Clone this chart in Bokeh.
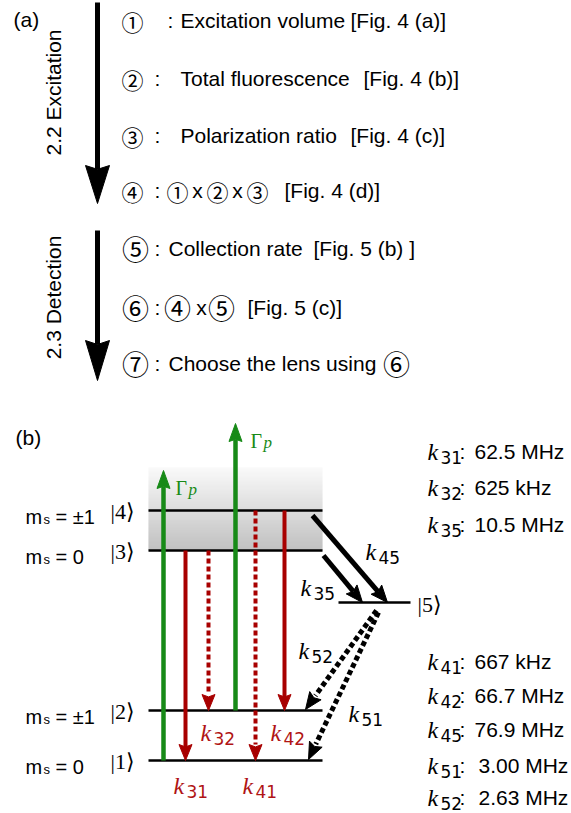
import math
from bokeh.plotting import figure
from bokeh.models import Range1d
from bokeh.core.properties import value
from bokeh.embed import file_html
from bokeh.resources import INLINE

# ---------------- data ----------------
step_numbers = ["①", "②", "③", "④", "⑤", "⑥", "⑦"]
step_texts = ["Excitation volume", "Total fluorescence", "Polarization ratio", "", "Collection rate", "", "Choose the lens using"]
step_refs = ["[Fig. 4 (a)]", "[Fig. 4 (b)]", "[Fig. 4 (c)]", "[Fig. 4 (d)]", "[Fig. 5 (b) ]", "[Fig. 5 (c)]", ""]
step_products = {3: ["①", "x", "②", "x", "③"], 5: ["④", "x", "⑤"], 6: ["⑥"]}
stage_labels = ["2.2 Excitation", "2.3 Detection"]

level_kets = ["|1⟩", "|2⟩", "|3⟩", "|4⟩"]
level_spins = ["0", "±1", "0", "±1"]
rate_names = ["31", "32", "35", "41", "42", "45", "51", "52"]
rate_values = ["62.5 MHz", "625 kHz", "10.5 MHz", "667 kHz", "66.7 MHz", "76.9 MHz", "3.00 MHz", "2.63 MHz"]
# radiative transitions (from level, to level, dotted?)
rad_from = [3, 3, 4, 4]
rad_to = [1, 2, 1, 2]
rad_dotted = [False, True, True, False]
pump_from = [1, 2]
pump_label = "Γ"

# ---------------- layout ----------------
W, H = 571, 813
SANS = "Liberation Sans"
SERIF = "Liberation Serif"
CIRC = "Noto Sans CJK JP"
RED = "#a80000"
RED_T = "#b01414"
GREEN = "#178a17"

p = figure(width=W, height=H, output_backend="svg", toolbar_location=None,
           x_range=Range1d(0, W), y_range=Range1d(H, 0),
           x_axis_location=None, y_axis_location=None,
           min_border=0, outline_line_color=None,
           background_fill_color="white", border_fill_color="white")
p.grid.visible = False


def txt(x, y, s, size, font=SANS, color="black", align="left", baseline="middle", style="normal", angle=0.0):
    p.text(x=[x], y=[y], text=[s], text_font=value(font), text_font_size=value(f"{size}px"),
           text_color=color, text_align=align, text_baseline=baseline,
           text_font_style=style, angle=angle)


def arrow(x0, y0, x1, y1, color, lw, hl, hw, notch=0.15, dash="solid"):
    L = math.hypot(x1 - x0, y1 - y0)
    ux, uy = (x1 - x0) / L, (y1 - y0) / L
    px, py = -uy, ux
    bx, by = x1 - ux * hl, y1 - uy * hl
    nx, ny = x1 - ux * hl * (1 - notch), y1 - uy * hl * (1 - notch)
    ex, ey = (nx, ny) if dash == "solid" else (bx, by)
    p.line([x0, ex], [y0, ey], line_color=color, line_width=lw, line_dash=dash, line_cap="butt")
    p.patch([x1, bx + px * hw / 2, nx, bx - px * hw / 2], [y1, by + py * hw / 2, ny, by - py * hw / 2],
            fill_color=color, line_color=color, line_width=1)


def klabel(x, base, sub, color="black", ks=24, ss=17):
    txt(x, base, "k", ks, font=SERIF, color=color, baseline="alphabetic", style="italic")
    txt(x + 13, base + 6, sub, ss, font="DejaVu Sans", color=color, baseline="alphabetic")


# ---------- (a) ----------
txt(13, 19, "(a)", 21)
step_y = [20, 78, 135, 190, 248, 307, 363]
colon_x = [170, 157, 157, 157, 157, 157, 157]
text_x = [180, 180, 180, 168, 168, 168, 168]
ref_x = [350, 363, 350, 284, 313, 247, None]
prod_x = {3: [177, 197, 217, 237, 257], 5: [177, 201, 221], 6: [396]}
for i in range(7):
    y = step_y[i]
    big = i >= 4
    csz = 27 if big else 22
    txt(132 if not big else 135, y, step_numbers[i], csz, font=CIRC, align="center")
    txt(colon_x[i], y, ":", 21, align="center")
    if step_texts[i]:
        txt(text_x[i], y, step_texts[i], 21)
    if i in step_products:
        for s, xx in zip(step_products[i], prod_x[i]):
            if s == "x":
                txt(xx, y, s, 21, align="center")
            else:
                txt(xx, y, s, csz, font=CIRC, align="center")
    if step_refs[i]:
        txt(ref_x[i], y, step_refs[i], 21)

txt(53, 92, stage_labels[0], 21, align="center", angle=math.pi / 2)
txt(53, 297, stage_labels[1], 21, align="center", angle=math.pi / 2)
arrow(97, 2, 97, 203, "black", 5, 38, 24, notch=0.1)
arrow(97, 230, 97, 380, "black", 5, 40, 24, notch=0.1)

# ---------- (b) ----------
txt(15, 437, "(b)", 21)

# gradient box behind the excited states
g_top, g_bot = 467, 550
n = g_bot - g_top
tops, bots, cols = [], [], []
for k in range(n):
    t = k / (n - 1)
    c = int(round(248 - 76 * t))
    tops.append(g_top + k)
    bots.append(g_top + k + 1)
    cols.append(f"#{c:02x}{c:02x}{c:02x}")
p.quad(left=148, right=322, top=tops, bottom=bots, fill_color=cols, line_color=None)

level_y = {1: 760, 2: 710, 3: 550, 4: 510}
for lv in (1, 2, 3, 4):
    y = level_y[lv]
    p.line([148, 322], [y, y], line_color="black", line_width=2.6)
    txt(25, y + 6.5, "m", 20, baseline="alphabetic")
    txt(43, y + 8.5, "s", 13, baseline="alphabetic")
    txt(55, y + 6.5, "= " + level_spins[lv - 1], 20, baseline="alphabetic")
    txt(110, y + 1, level_kets[lv - 1], 22, font=SERIF)
y5 = 602
p.line([338, 410], [y5, y5], line_color="black", line_width=2.6)
txt(417, y5 + 2, "|5⟩", 22, font=SERIF)

# pump arrows (green)
pump_x = [163, 235]
pump_tip = [470, 423]
for fr, xx, tip in zip(pump_from, pump_x, pump_tip):
    arrow(xx, level_y[fr], xx, tip, GREEN, 4.5, 18, 13, notch=0.12)
txt(175, 487, pump_label, 20, font=SERIF, color=GREEN, baseline="alphabetic")
txt(188, 489, "p", 17, font=SERIF, color=GREEN, baseline="alphabetic", style="italic")
txt(250, 440, pump_label, 20, font=SERIF, color=GREEN, baseline="alphabetic")
txt(263, 442, "p", 17, font=SERIF, color=GREEN, baseline="alphabetic", style="italic")

# radiative decays (red)
rad_x = [185, 208, 255, 284]
for fr, to, dot, xx in zip(rad_from, rad_to, rad_dotted, rad_x):
    arrow(xx, level_y[fr], xx, level_y[to], RED, 4, 16, 13, notch=0.15,
          dash="5 3" if dot else "solid")
klabel(173, 785, "31", RED_T)
klabel(200, 732, "32", RED_T)
klabel(242, 785, "41", RED_T)
klabel(270, 732, "42", RED_T)

# intersystem crossing (black)
arrow(312, 515, 387, y5, "black", 5, 17, 14, notch=0.15)
arrow(323, 555, 362, y5, "black", 5, 17, 14, notch=0.15)
arrow(376, 610, 305, 709, "black", 5, 17, 14, notch=0.15, dash="5 3")
arrow(378, 612, 308, 759, "black", 5, 17, 14, notch=0.15, dash="5 3")
klabel(365, 551, "45")
klabel(300, 587, "35")
klabel(298, 650, "52")
klabel(348, 713, "51")

# rate list
rate_base = [451, 487, 524, 661, 695, 729, 765, 797]
for nm, val, b in zip(rate_names, rate_values, rate_base):
    klabel(427, b, nm)
    txt(462, b, ":", 21, align="center", baseline="alphabetic")
    txt(478 if val.startswith(("3.", "2.")) else 474, b, val, 21, baseline="alphabetic")

open("out.html", "w").write(file_html(p, INLINE))
